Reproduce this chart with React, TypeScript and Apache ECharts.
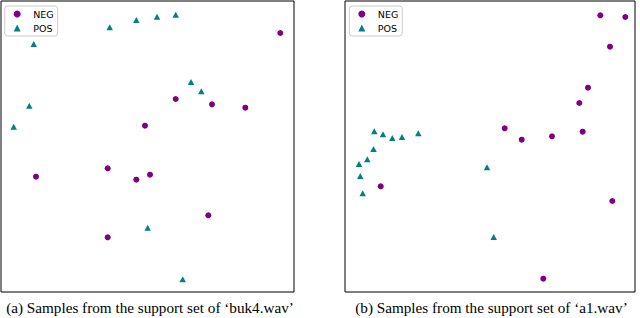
import React, { useEffect, useRef } from "react";
import * as echarts from "echarts";

// Panel (a): support set of 'buk4.wav' (arbitrary embedding units)
const negA: [number, number][] = [
  [279.3, 259], [174.7, 193], [211, 187.7], [244.3, 184.3], [144, 166.3],
  [35, 115.3], [106.7, 123.7], [135.3, 112.3], [149, 117.3], [207.3, 76.7], [106.7, 54.7],
];
const posA: [number, number][] = [
  [32.7, 248], [108.7, 264.7], [135.3, 272], [156, 275.3], [174.7, 277.3],
  [190, 210], [200.3, 200.7], [28.3, 186.3], [12.7, 165.3], [146.7, 64.3], [181.7, 12.7],
];
// Panel (b): support set of 'a1.wav'
const negB: [number, number][] = [
  [255.3, 276.7], [280.3, 275], [265, 245.3], [243, 204.3], [234.3, 189],
  [159.7, 163.7], [176.7, 152.3], [207, 155.7], [237.7, 160.3], [35.7, 105.7],
  [267.3, 91], [198.3, 13.3],
];
const posB: [number, number][] = [
  [29.3, 160.7], [38, 157.7], [47.3, 154], [57, 155], [73.3, 158.7], [28.5, 143],
  [14, 128], [22.3, 132.7], [15.3, 116], [17.7, 98.7], [142, 124.7], [148.7, 55],
];
const legendNames = ["NEG", "POS"];
const captionA = "(a) Samples from the support set of \u2018buk4.wav\u2019";
const captionB = "(b) Samples from the support set of \u2018a1.wav\u2019";

const NEG_COLOR = "#800080";
const POS_COLOR = "#008080";

export default function App() {
  const ref = useRef<HTMLDivElement>(null);
  useEffect(() => {
    if (!ref.current) return;
    const chart = echarts.init(ref.current, null, { renderer: "svg" });
    const legendBase = {
      orient: "vertical" as const,
      top: 6,
      itemWidth: 7,
      itemHeight: 7,
      itemGap: 4,
      padding: [3, 4, 3, 9],
      borderColor: "#cccccc",
      borderWidth: 1,
      borderRadius: 3,
      backgroundColor: "rgba(255,255,255,0.8)",
      textStyle: { fontFamily: "DejaVu Sans", fontSize: 9.5, color: "#000", lineHeight: 10, padding: [0, 0, 0, 7.5] },
      selectedMode: false,
      data: [
        { name: legendNames[0], icon: "circle", itemStyle: { color: NEG_COLOR, opacity: 1 } },
        { name: legendNames[1], icon: "triangle", itemStyle: { color: POS_COLOR, opacity: 1 } },
      ],
    };
    const capStyle = {
      fontFamily: "Liberation Serif",
      fontSize: 15.2,
      fill: "#000",
      align: "center",
      verticalAlign: "middle",
    };
    chart.setOption({
      animation: false,
      backgroundColor: "#fff",
      grid: [
        { left: 1, top: 1, width: 293, height: 291, show: true, borderColor: "#000", borderWidth: 1, backgroundColor: "transparent" },
        { left: 345, top: 1, width: 290, height: 291, show: true, borderColor: "#000", borderWidth: 1, backgroundColor: "transparent" },
      ],
      xAxis: [
        { gridIndex: 0, type: "value", min: 0, max: 293, show: false },
        { gridIndex: 1, type: "value", min: 0, max: 290, show: false },
      ],
      yAxis: [
        { gridIndex: 0, type: "value", min: 0, max: 291, show: false },
        { gridIndex: 1, type: "value", min: 0, max: 291, show: false },
      ],
      legend: [
        { ...legendBase, left: 4.7 },
        { ...legendBase, left: 349.3 },
      ],
      series: [
        { name: legendNames[0], type: "scatter", xAxisIndex: 0, yAxisIndex: 0, data: negA, symbol: "circle", symbolSize: 6, itemStyle: { color: NEG_COLOR, opacity: 1 } },
        { name: legendNames[1], type: "scatter", xAxisIndex: 0, yAxisIndex: 0, data: posA, symbol: "triangle", symbolSize: [6.5, 6], itemStyle: { color: POS_COLOR, opacity: 1 } },
        { name: legendNames[0], type: "scatter", xAxisIndex: 1, yAxisIndex: 1, data: negB, symbol: "circle", symbolSize: 6, itemStyle: { color: NEG_COLOR, opacity: 1 } },
        { name: legendNames[1], type: "scatter", xAxisIndex: 1, yAxisIndex: 1, data: posB, symbol: "triangle", symbolSize: [6.5, 6], itemStyle: { color: POS_COLOR, opacity: 1 } },
      ],
      graphic: [
        { type: "text", x: 150, y: 307, style: { ...capStyle, text: captionA } },
        { type: "text", x: 491.5, y: 307, style: { ...capStyle, text: captionB } },
      ],
    });
    return () => chart.dispose();
  }, []);
  return <div ref={ref} style={{ width: 640, height: 318, position: "fixed", left: 0, top: 0 }} />;
}
